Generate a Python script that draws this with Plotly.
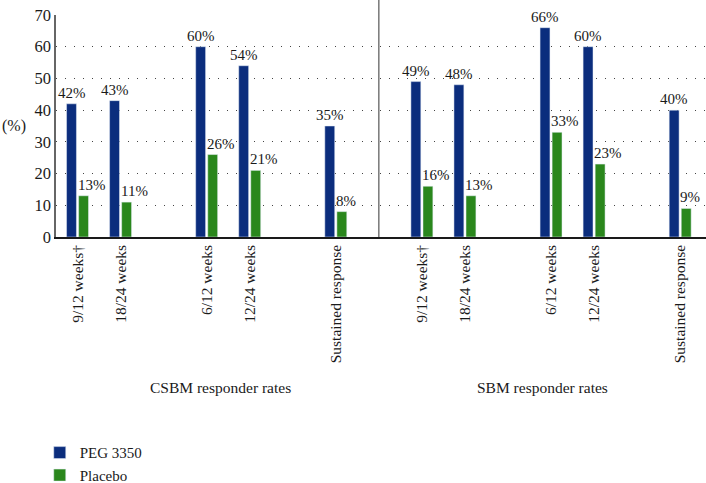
import plotly.graph_objects as go

categories = ["9/12 weeks†", "18/24 weeks", "6/12 weeks", "12/24 weeks", "Sustained response",
              "9/12 weeks†", "18/24 weeks", "6/12 weeks", "12/24 weeks", "Sustained response"]
positions = [0, 1, 3, 4, 6, 8, 9, 11, 12, 14]
peg_values = [42, 43, 60, 54, 35, 49, 48, 66, 60, 40]
placebo_values = [13, 11, 26, 21, 8, 16, 13, 33, 23, 9]
group_titles = ["CSBM responder rates", "SBM responder rates"]
group_centers = [3.31, 10.8]
y_ticks = [0, 10, 20, 30, 40, 50, 60, 70]

FONT = "Liberation Serif"
BLUE = "#0b2d7d"
GREEN = "#2a871c"
TXT = "#1a1a1a"

fig = go.Figure()
fig.add_trace(go.Bar(
    x=positions, y=peg_values, name="PEG 3350", marker_color=BLUE,
    width=0.23, offset=-0.255,
))
fig.add_trace(go.Bar(
    x=positions, y=placebo_values, name="Placebo", marker_color=GREEN,
    width=0.23, offset=0.025,
))

# Value labels
for p, v in zip(positions, peg_values):
    fig.add_annotation(x=p - 0.14, y=v, xref="x", yref="y", text=f"{v}%", showarrow=False,
                       xanchor="center", yanchor="bottom", yshift=1,
                       font=dict(family=FONT, size=15, color=TXT))
for p, v in zip(positions, placebo_values):
    fig.add_annotation(x=p + 0.025, y=v, xref="x", yref="y", text=f"{v}%", showarrow=False,
                       xanchor="left", yanchor="bottom", yshift=1, xshift=-3,
                       font=dict(family=FONT, size=15, color=TXT))

fig.update_layout(
    width=706, height=483,
    margin=dict(l=56, r=0, t=15, b=246, autoexpand=False),
    paper_bgcolor="white", plot_bgcolor="white",
    barmode="overlay",
    font=dict(family=FONT, size=15, color=TXT),
    showlegend=True,
    legend=dict(x=-0.025, y=-0.898, xanchor="left", yanchor="top",
                font=dict(family=FONT, size=15, color=TXT),
                traceorder="normal", itemwidth=30, tracegroupgap=2),
)
fig.update_xaxes(
    range=[-0.5, 14.6], tickmode="array", tickvals=positions, ticktext=categories,
    tickangle=-90, showgrid=False, showline=True, linecolor="#1a1a1a", linewidth=1.5,
    ticks="", tickfont=dict(family=FONT, size=15.5, color=TXT), zeroline=False,
    automargin=False,
)
fig.update_yaxes(
    range=[0, 70], tickvals=y_ticks, showgrid=True, gridcolor="#444", griddash="1px,8px",
    gridwidth=1.2, showline=True, linecolor="#666", linewidth=1.5, ticks="",
    tickfont=dict(family=FONT, size=16.5, color=TXT), zeroline=False, automargin=False,
)

# "(%)" label
fig.add_annotation(x=0, xref="paper", xshift=-56, xanchor="left", y=0.5, yref="paper",
                   text="(%)", showarrow=False, font=dict(family=FONT, size=16, color=TXT))

# Divider between the two groups
fig.add_shape(type="line", xref="x", yref="paper", x0=7, x1=7, y0=0, y1=1.07,
              line=dict(color="#555", width=1.2))

# Group titles
for xc, t in zip(group_centers, group_titles):
    fig.add_annotation(x=xc, xref="x", y=-0.676, yref="paper", text=t, showarrow=False,
                       yanchor="middle", font=dict(family=FONT, size=15.5, color=TXT))

fig.write_html("out.html", config={"displayModeBar": False},
               post_script="document.body.style.margin='0px';document.body.style.overflow='hidden';")
